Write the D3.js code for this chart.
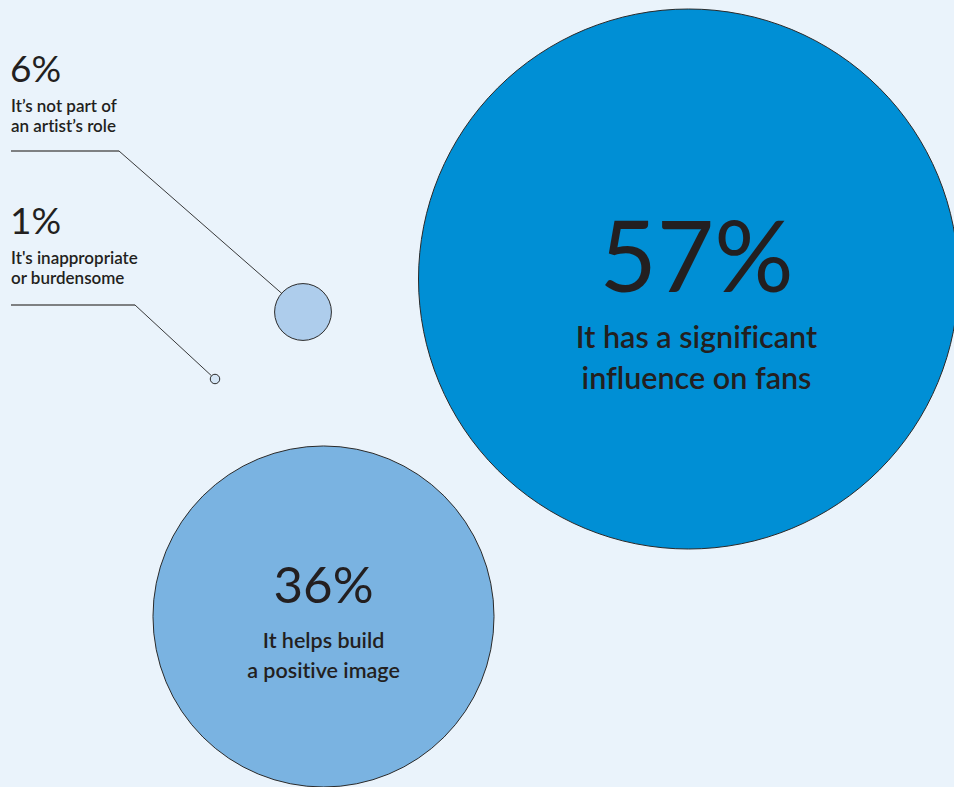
<!DOCTYPE html>
<html>
<head>
<meta charset="utf-8">
<script src="https://cdn.jsdelivr.net/npm/d3@7"></script>
<style>
  html, body { margin: 0; padding: 0; background: #EAF3FB; }
  svg { display: block; }
  text { font-family: "Source Sans Pro", "Lato", "Noto Sans", sans-serif; fill: #231F20;
         font-variant-ligatures: none; font-feature-settings: "liga" 0; }
</style>
</head>
<body>
<div id="chart"></div>
<script>
// ---- data ----
const categories = [
  "It has a significant influence on fans",
  "It helps build a positive image",
  "It's not part of an artist's role",
  "It's inappropriate or burdensome"
];
const values = [57, 36, 6, 1];
const valueLabels = ["57%", "36%", "6%", "1%"];
const labelLines = [
  ["It has a significant", "influence on fans"],
  ["It helps build", "a positive image"],
  ["It\u2019s not part of", "an artist\u2019s role"],
  ["It's inappropriate", "or burdensome"]
];

// ---- layout (positions / styles) ----
const W = 954, H = 787;
const centers = [[688.5, 279], [323.5, 616.5], [303, 312], [215, 379]];
const fills = ["#008FD5", "#7AB3E1", "#AECDEC", "#D5E6F6"];

const svg = d3.select("#chart").append("svg")
  .attr("width", W).attr("height", H);

svg.append("rect").attr("width", W).attr("height", H).attr("fill", "#EAF3FB");

const r = d3.scaleLinear().domain([0, 57]).range([0, 270]);

const nodes = values.map((v, i) => ({
  value: v, label: valueLabels[i], lines: labelLines[i], cat: categories[i],
  cx: centers[i][0], cy: centers[i][1], r: r(v), fill: fills[i]
}));

// leader lines for small bubbles (outside labels)
const outside = [
  { i: 2, y: 151, x0: 11, x1: 119, tY: 82 },
  { i: 3, y: 305, x0: 11, x1: 135, tY: 234 }
];

outside.forEach(o => {
  const n = nodes[o.i];
  const dx = n.cx - o.x1, dy = n.cy - o.y, len = Math.hypot(dx, dy);
  const ex = n.cx - n.r * dx / len, ey = n.cy - n.r * dy / len;
  svg.append("line").attr("x1", o.x0).attr("y1", o.y).attr("x2", o.x1).attr("y2", o.y)
    .attr("stroke", "#5a5a5a").attr("stroke-width", 1.3);
  svg.append("line").attr("x1", o.x1).attr("y1", o.y).attr("x2", ex).attr("y2", ey)
    .attr("stroke", "#222").attr("stroke-width", 0.9);
  svg.append("text").attr("x", o.x0 - 1).attr("y", o.tY)
    .attr("font-size", 37).attr("font-weight", 400).text(n.label);
  n.lines.forEach((l, k) => {
    svg.append("text").attr("x", o.x0).attr("y", o.tY + 30 + k * 20)
      .attr("font-size", 17).attr("font-weight", 600).text(l);
  });
});

// bubbles
svg.selectAll("circle.bubble").data(nodes).join("circle")
  .attr("class", "bubble")
  .attr("cx", d => d.cx).attr("cy", d => d.cy).attr("r", d => d.r)
  .attr("fill", d => d.fill).attr("stroke", "#2a2a2a").attr("stroke-width", 1);

// inside labels
const inside = [
  { i: 0, dx: 8, bigSize: 99, bigY: 292, subSize: 30.5, subY: [348, 389] },
  { i: 1, dx: 0, bigSize: 51, bigY: 603, subSize: 21.5, subY: [648, 678] }
];
inside.forEach(o => {
  const n = nodes[o.i];
  svg.append("text").attr("x", n.cx + o.dx).attr("y", o.bigY)
    .attr("text-anchor", "middle").attr("font-size", o.bigSize).attr("font-weight", 400)
    .text(n.label);
  n.lines.forEach((l, k) => {
    svg.append("text").attr("x", n.cx + o.dx).attr("y", o.subY[k])
      .attr("text-anchor", "middle").attr("font-size", o.subSize).attr("font-weight", 600)
      .text(l);
  });
});
</script>
</body>
</html>
